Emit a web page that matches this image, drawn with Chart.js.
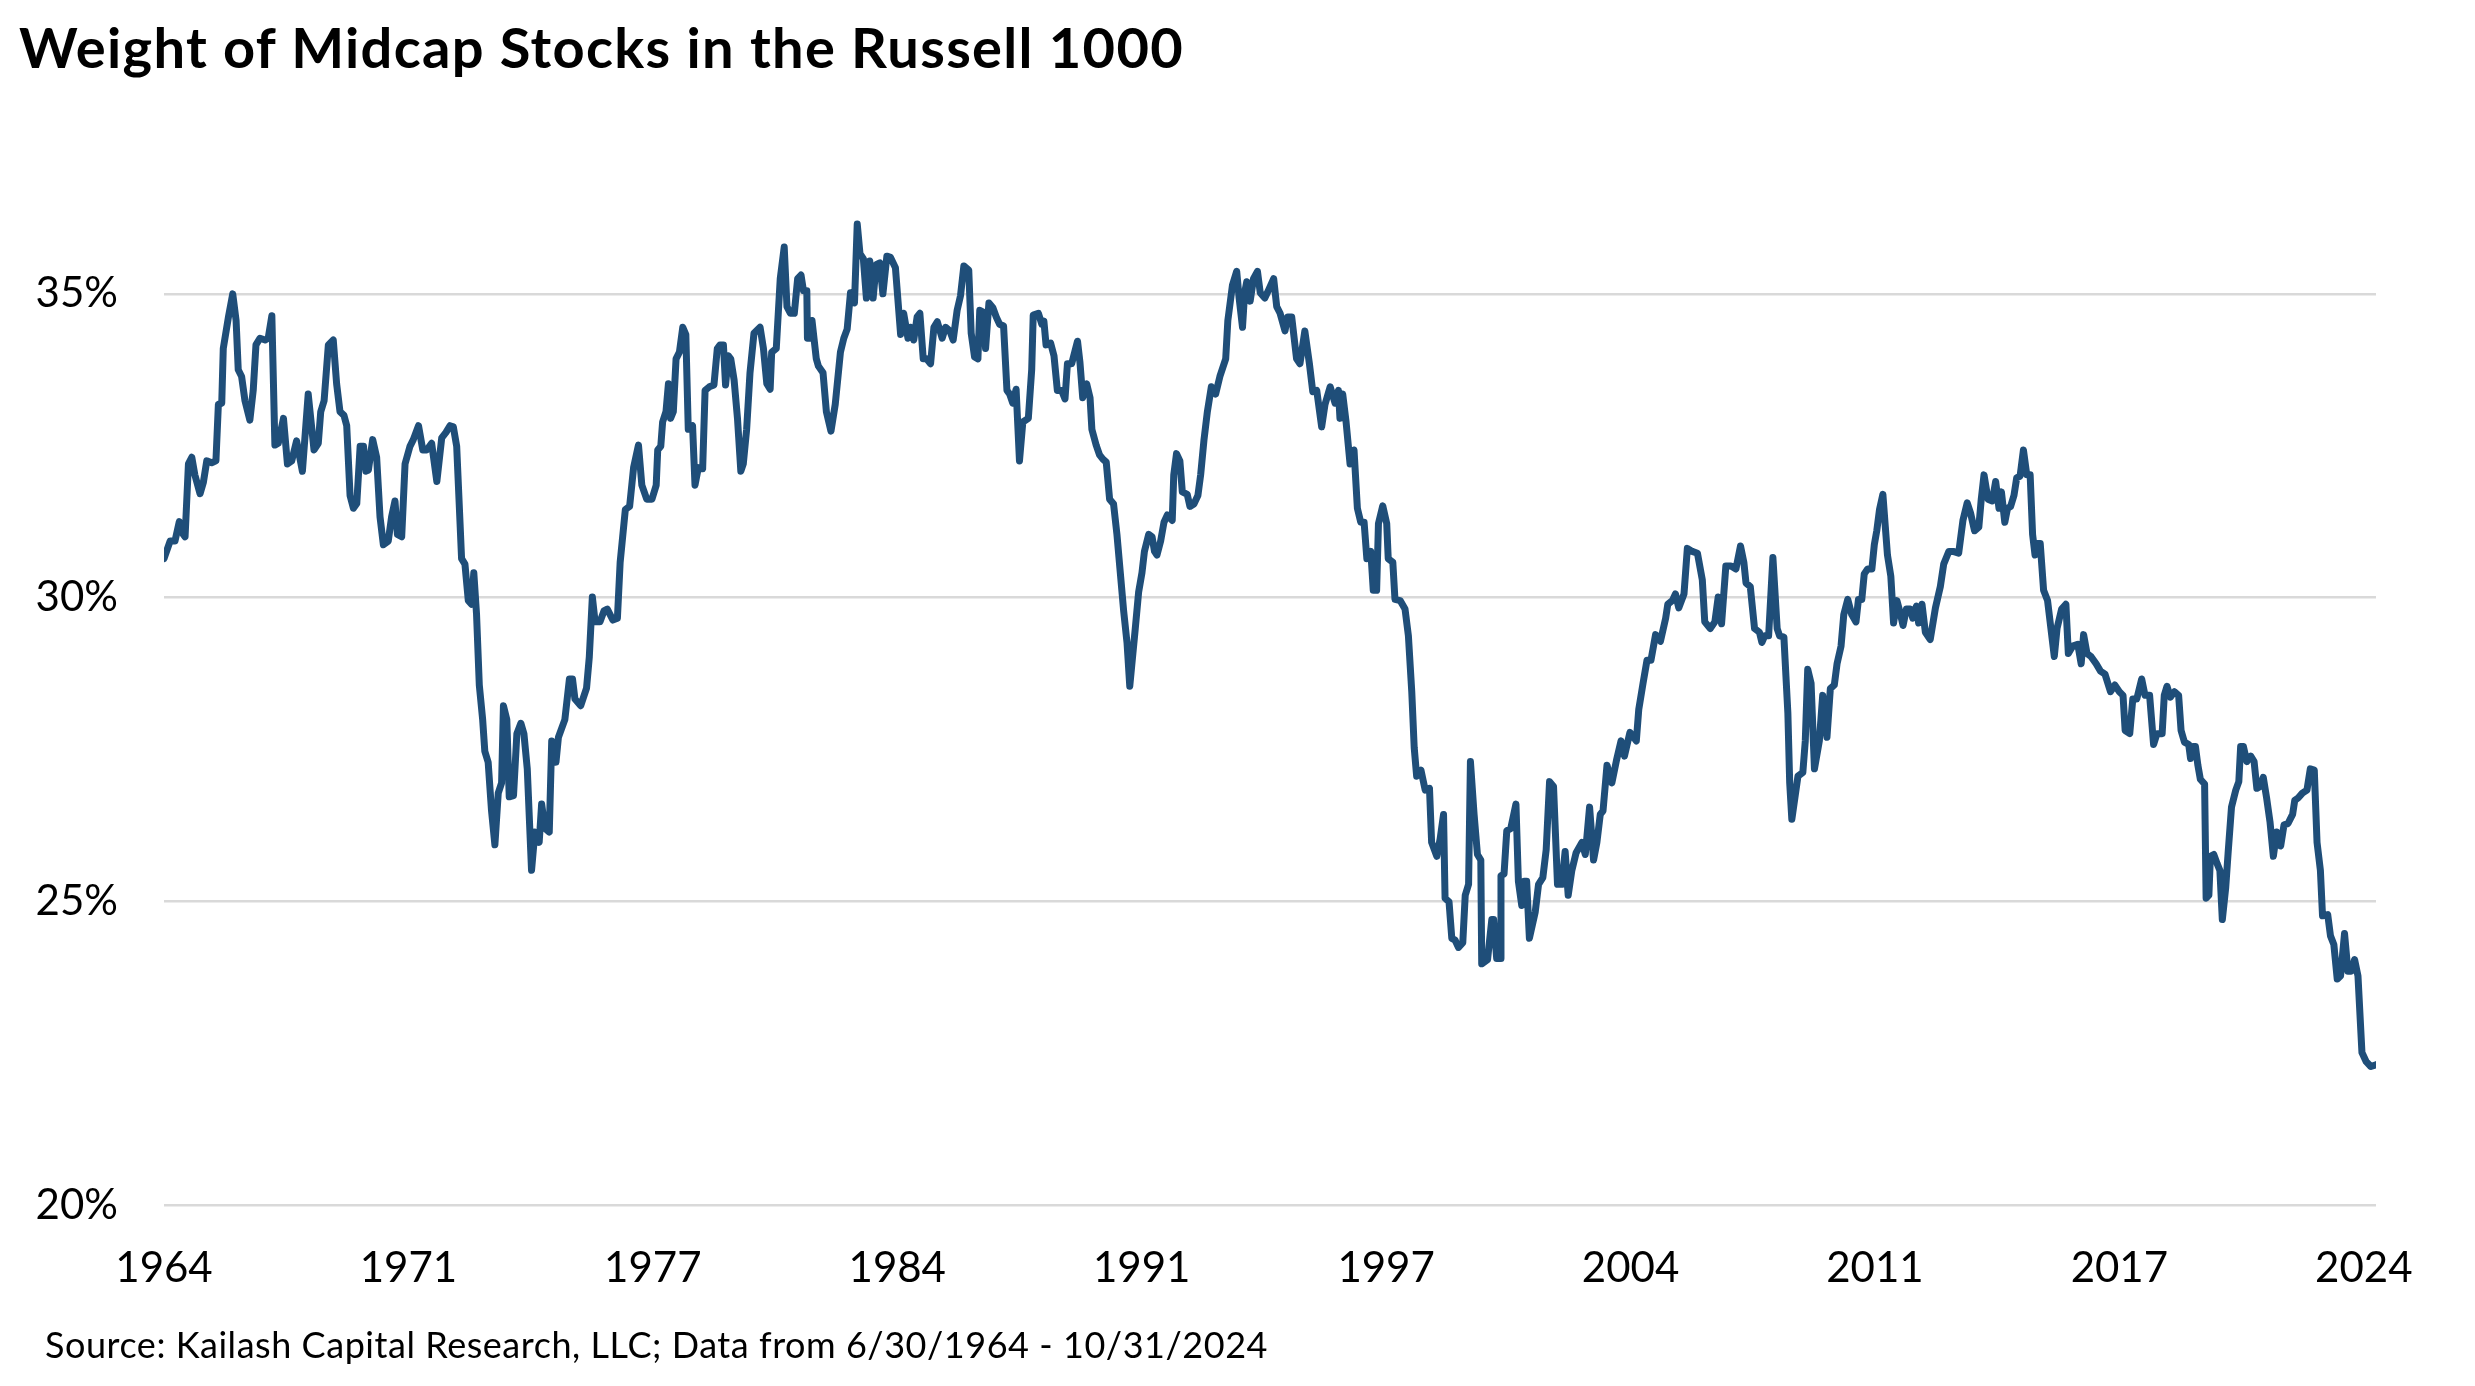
<!DOCTYPE html>
<html>
<head>
<meta charset="utf-8">
<script src="https://cdn.jsdelivr.net/npm/chart.js@4.4.1/dist/chart.umd.min.js"></script>
<style>
  html, body { margin: 0; padding: 0; background: #fff; }
  #wrap { position: relative; width: 2475px; height: 1386px; overflow: hidden; background: #fff; }
  #chart { position: absolute; left: 0; top: 0; }
  #title { position: absolute; left: 19px; top: 13px; font-family: Lato, sans-serif; font-weight: 700;
           font-size: 56px; line-height: 1.2; color: #000; white-space: nowrap; }
  #source { position: absolute; left: 45px; top: 1323px; font-family: Lato, sans-serif; font-weight: 400;
            font-size: 36px; line-height: 1.2; color: #000; white-space: nowrap; }
</style>
</head>
<body>
<div id="wrap">
  <canvas id="chart" width="2475" height="1386"></canvas>
  <div id="title">Weight of Midcap Stocks in the Russell 1000</div>
  <div id="source">Source: Kailash Capital Research, LLC; Data from 6/30/1964 - 10/31/2024</div>
</div>
<script>
// Month index since 6/30/1964 (0 = Jun 1964, 724 = Oct 2024)
const months = [
0,2.0,3.6,5.0,6.3,6.9,8.0,9.1,10.1,11.8,12.9,14.0,15.6,17.0,17.8,18.9,19.4,21.1,22.5,23.6,
24.3,25.4,26.5,28.1,29.2,30.1,31.4,33.1,34.1,35.3,36.3,37.4,39.1,40.4,41.8,43.4,45.3,47.2,49.1,50.5,
51.3,52.4,53.8,55.4,56.5,57.6,58.9,59.8,60.9,62.0,63.1,64.2,65.3,66.1,66.9,68.3,69.6,70.7,71.8,73.4,
74.5,75.6,76.4,77.8,78.9,80.5,81.6,83.3,84.7,86.0,87.6,89.3,90.9,92.3,93.6,94.7,95.8,96.9,97.4,98.5,
99.6,100.7,101.4,102.3,103.2,104.3,105.0,106.1,107.2,108.3,109.4,110.5,111.1,112.2,113.0,114.4,115.5,116.8,117.8,118.9,
120.3,121.4,122.8,123.6,124.7,126.1,126.9,128.3,129.1,131.2,132.7,133.7,134.5,136.4,138.3,139.2,140.2,141.1,142.7,144.0,
145.1,146.9,148.4,149.3,151.0,152.4,153.7,155.3,156.4,158.0,159.7,161.1,161.6,162.6,163.2,164.3,165.1,165.8,166.7,167.6,
168.7,169.8,170.8,171.6,173.0,173.8,174.9,176.3,177.1,178.5,180.0,181.1,182.0,183.1,183.8,184.7,185.5,186.6,187.7,188.8,
189.6,190.7,191.8,193.1,195.1,196.2,197.3,198.4,198.9,200.4,201.7,203.0,203.9,205.0,206.3,207.4,208.5,209.3,210.4,210.6,
211.5,212.1,213.5,214.2,215.7,216.8,218.3,219.7,221.4,222.5,223.6,224.7,226.0,226.9,227.8,228.9,229.9,231.0,232.1,233.1,
234.3,235.3,236.6,237.8,239.4,241.1,242.1,243.5,244.3,245.4,246.5,247.4,248.5,249.6,250.9,252.0,253.1,254.7,255.8,257.2,
258.3,259.6,260.7,261.8,263.4,264.2,265.3,266.4,267.0,268.1,268.9,270.0,271.3,272.4,273.5,274.8,275.9,276.8,277.8,278.9,
280.0,281.1,282.9,284.0,284.5,286.2,287.3,288.0,288.7,290.2,291.3,292.4,293.8,294.9,295.7,297.1,299.0,299.8,300.7,302.0,
303.1,303.7,305.1,306.2,307.3,308.4,309.5,310.8,311.9,313.0,314.1,315.2,316.1,316.8,317.9,319.0,320.1,320.9,322.3,323.4,
324.2,325.0,326.2,327.3,328.4,330.0,330.5,331.4,332.5,333.3,334.9,335.8,337.1,338.4,339.3,340.4,341.5,342.8,344.2,345.6,
347.5,348.2,349.7,351.1,351.9,353.0,353.7,354.4,355.5,356.6,357.9,358.8,360.3,361.7,363.2,364.2,365.3,366.9,367.8,369.1,
370.7,371.8,373.4,374.9,376.0,377.3,378.9,380.0,381.7,383.3,384.4,384.9,385.8,386.9,388.2,389.5,390.6,391.7,392.8,393.7,
395.0,395.8,396.9,397.5,398.9,400.2,400.7,402.2,402.9,404.6,406.2,407.3,408.4,409.2,410.0,411.4,412.8,414.2,414.9,416.6,
417.7,418.8,419.3,420.6,421.5,422.6,423.7,425.1,425.9,427.0,427.6,428.8,429.9,431.0,431.3,433.2,434.6,435.2,436.2,437.3,
437.6,438.6,439.5,440.8,442.5,443.3,444.4,445.2,446.0,446.9,448.8,449.9,451.3,452.4,453.5,454.8,456.1,457.5,458.6,459.6,
460.8,462.2,464.1,465.2,466.6,467.9,469.0,470.1,471.0,472.3,473.9,475.4,476.9,478.0,479.8,481.9,482.7,484.1,485.4,486.7,
488.2,489.8,491.5,492.2,493.7,494.7,495.8,497.5,498.6,500.2,501.9,503.5,504.3,506.1,507.6,508.7,509.8,511.2,512.9,514.5,
516.0,517.1,517.8,519.2,520.6,522.2,523.0,523.9,525.2,526.6,528.0,528.8,530.2,531.5,532.1,532.8,534.8,536.4,537.2,538.0,
539.1,540.2,541.8,542.9,544.3,545.4,546.7,547.6,548.9,549.8,551.1,552.4,553.8,554.6,555.7,556.5,557.6,559.0,559.8,560.6,
561.5,562.6,563.4,564.1,565.2,566.1,567.2,568.3,569.2,570.3,571.6,572.4,573.6,574.3,575.4,576.5,578.1,579.8,581.4,582.5,
584.2,585.6,587.4,588.8,590.2,591.3,592.6,594.0,594.8,595.7,597.0,598.4,599.5,600.6,601.4,602.5,603.4,604.4,605.5,606.4,
607.5,608.6,609.7,610.8,611.6,612.4,613.2,614.1,615.2,616.5,617.6,618.7,619.6,621.1,622.5,623.3,624.7,626.4,627.5,628.3,
629.4,630.7,632.4,633.8,635.3,637.1,638.5,640.0,641.2,641.9,643.4,644.4,645.7,647.3,648.4,649.9,651.2,652.3,654.0,654.7,
655.6,656.7,658.0,659.4,660.2,661.3,662.7,663.3,664.1,664.9,665.7,666.5,667.9,668.4,669.3,669.8,670.9,672.0,672.9,673.7,
674.8,675.6,676.7,678.1,679.1,679.7,680.6,681.7,683.0,684.1,685.0,686.1,687.1,688.2,689.3,690.4,691.5,692.8,693.9,695.2,
696.7,697.4,698.5,699.9,701.4,702.5,703.8,704.7,705.8,706.5,708.2,709.1,710.2,711.3,712.4,713.7,714.8,715.9,717.0,718.1,
719.4,720.8,722.3,724.0
];
// Weight of midcap stocks, percent
const weights = [
30.64,30.93,30.93,31.25,31.04,31.0,32.2,32.31,32.02,31.71,31.9,32.25,32.22,32.25,33.18,33.2,34.1,34.62,35.0,34.56,
33.75,33.64,33.24,32.92,33.41,34.16,34.27,34.24,34.27,34.64,32.51,32.54,32.95,32.2,32.25,32.58,32.08,33.35,32.43,32.54,
33.06,33.24,34.16,34.24,33.52,33.06,33.0,32.83,31.68,31.47,31.55,32.49,32.49,32.08,32.1,32.6,32.31,31.33,30.87,30.93,
31.33,31.59,31.04,31.0,32.2,32.49,32.6,32.83,32.43,32.43,32.54,31.91,32.63,32.72,32.83,32.81,32.49,31.22,30.64,30.55,
29.95,29.89,30.41,29.72,28.56,27.99,27.47,27.29,26.49,25.93,26.78,26.95,28.22,27.99,26.72,26.74,27.76,27.93,27.76,27.18,
25.51,26.14,25.97,26.6,26.2,26.14,27.64,27.29,27.7,27.99,28.66,28.66,28.33,28.22,28.51,29.02,30.01,29.6,29.6,29.78,
29.81,29.63,29.66,30.58,31.45,31.5,32.14,32.51,31.85,31.62,31.62,31.85,32.43,32.49,32.89,33.06,33.52,32.95,33.06,33.93,
34.04,34.45,34.33,32.77,32.83,31.85,32.14,32.12,33.41,33.47,33.5,34.1,34.16,34.16,33.5,33.98,33.93,33.58,32.95,32.08,
32.2,32.77,33.7,34.35,34.45,34.1,33.52,33.43,34.04,34.1,35.25,35.77,34.79,34.68,34.68,35.25,35.31,35.05,35.05,34.27,
34.27,34.56,33.93,33.81,33.7,33.06,32.74,33.18,34.04,34.27,34.42,35.02,34.85,36.15,35.66,35.58,34.93,35.54,34.93,35.48,
35.51,35.0,35.62,35.6,35.43,34.33,34.68,34.27,34.45,34.24,34.62,34.68,33.93,33.93,33.85,34.45,34.54,34.27,34.45,34.39,
34.24,34.73,34.97,35.46,35.39,34.35,33.96,33.93,34.73,34.7,34.1,34.85,34.77,34.62,34.5,34.47,33.41,33.35,33.2,33.43,
32.25,32.89,32.95,33.75,34.65,34.68,34.5,34.55,34.16,34.19,33.98,33.41,33.41,33.27,33.85,33.85,34.22,33.87,33.29,33.52,
33.29,32.77,32.51,32.35,32.28,32.23,31.62,31.54,31.04,30.41,29.78,29.26,28.54,28.91,29.49,30.09,30.41,30.76,31.04,31.0,
30.76,30.7,30.93,31.24,31.36,31.27,32.02,32.37,32.25,31.74,31.7,31.5,31.54,31.68,32.02,32.6,33.06,33.47,33.35,33.64,
33.93,34.56,35.14,35.37,34.93,34.45,35.02,35.2,34.88,35.25,35.37,35.02,34.93,35.08,35.25,34.79,34.68,34.39,34.62,34.62,
33.93,33.85,34.39,33.85,33.39,33.41,32.81,33.18,33.47,33.2,33.41,32.95,33.35,32.89,32.2,32.43,31.47,31.24,31.24,30.64,
30.76,30.12,30.12,31.22,31.51,31.22,30.64,30.58,29.97,29.95,29.81,29.37,28.45,27.53,27.06,27.16,26.83,26.86,25.97,25.74,
26.03,26.43,25.05,24.99,24.39,24.36,24.24,24.32,25.1,25.28,27.3,26.43,25.77,25.68,23.97,24.04,24.7,24.7,24.06,24.06,
25.42,25.45,26.16,26.2,26.6,25.33,24.93,25.33,25.33,24.39,24.82,25.28,25.39,25.85,26.97,26.89,25.28,25.28,25.82,25.1,
25.51,25.8,25.97,25.77,26.55,25.68,25.97,26.43,26.49,27.24,26.95,27.32,27.64,27.39,27.78,27.64,28.16,28.59,28.97,28.97,
29.39,29.28,29.66,29.89,29.95,30.06,29.83,30.06,30.81,30.76,30.73,30.29,29.6,29.49,29.6,30.01,29.57,30.52,30.52,30.47,
30.85,30.58,30.24,30.18,29.49,29.43,29.26,29.37,29.37,30.66,29.49,29.37,29.35,28.1,26.95,26.35,27.06,27.12,27.64,28.82,
28.59,27.18,27.64,28.39,27.7,28.5,28.56,28.91,29.2,29.72,29.97,29.72,29.6,29.97,29.97,30.39,30.47,30.47,30.87,31.1,
31.45,31.7,31.16,30.7,30.35,29.58,29.95,29.74,29.54,29.81,29.81,29.66,29.86,29.58,29.89,29.43,29.31,29.83,30.18,30.55,
30.76,30.76,30.73,31.27,31.56,31.39,31.1,31.16,31.62,32.02,31.62,31.59,31.91,31.47,31.74,31.24,31.47,31.5,31.68,31.97,
32.0,32.43,32.02,32.02,31.04,30.7,30.89,30.89,30.12,29.95,29.49,29.03,29.49,29.81,29.89,29.08,29.2,29.23,28.91,29.39,
29.08,29.03,28.91,28.79,28.74,28.45,28.56,28.45,28.39,27.81,27.76,28.33,28.33,28.66,28.39,28.39,27.58,27.76,27.76,28.39,
28.54,28.36,28.45,28.39,27.81,27.62,27.58,27.35,27.55,27.55,27.24,27.01,26.93,25.05,25.1,25.74,25.77,25.62,25.51,24.7,
25.22,25.8,26.55,26.83,26.97,27.55,27.55,27.3,27.39,27.3,26.86,26.89,27.04,26.7,26.31,25.74,26.14,25.91,26.26,26.28,
26.43,26.66,26.7,26.78,26.83,27.18,27.16,25.97,25.51,24.76,24.78,24.43,24.29,23.72,23.77,24.47,23.85,23.85,24.04,23.77,
22.51,22.36,22.28,22.31
];
// Axis ticks
const xTickIndex = [0, 80, 160, 240, 320, 400, 480, 560, 640, 720];
const xTickLabels = ['1964', '1971', '1977', '1984', '1991', '1997', '2004', '2011', '2017', '2024'];
const yTickValues = [20, 25, 30, 35];

// Stretch text so its visible width matches the reference
function fitWidth(id, target) {
  const el = document.getElementById(id);
  el.style.letterSpacing = '0px';
  const w = el.getBoundingClientRect().width;
  const n = el.textContent.length;
  if (n > 1) el.style.letterSpacing = ((target - w) / n) + 'px';
}

function build() {
  fitWidth('title', 1165);
  fitWidth('source', 1223);
  const points = months.map((m, i) => ({ x: m, y: weights[i] }));
  new Chart(document.getElementById('chart'), {
    type: 'line',
    data: {
      datasets: [{
        data: points,
        borderColor: '#1F4E79',
        borderWidth: 7,
        pointRadius: 0,
        tension: 0,
        borderJoinStyle: 'round',
        borderCapStyle: 'round',
        fill: false
      }]
    },
    options: {
      responsive: false,
      animation: false,
      devicePixelRatio: 1,
      layout: { padding: { left: 0, right: 99, top: 142, bottom: 0 } },
      plugins: { legend: { display: false }, tooltip: { enabled: false }, title: { display: false } },
      scales: {
        x: {
          type: 'linear',
          min: 0,
          max: 724,
          grid: { display: false, drawTicks: false },
          border: { display: false },
          afterFit: (s) => { s.height = 181; },
          afterBuildTicks: (s) => { s.ticks = xTickIndex.map(v => ({ value: v })); },
          ticks: {
            autoSkip: false,
            maxRotation: 0,
            padding: 38,
            color: '#000',
            font: { family: 'Lato', size: 42 },
            callback: (v) => xTickLabels[xTickIndex.indexOf(v)]
          }
        },
        y: {
          min: 20,
          max: 37.5,
          grid: { color: '#D9D9D9', lineWidth: 2.5, drawTicks: false },
          border: { display: false },
          afterFit: (s) => { s.width = 164; },
          afterBuildTicks: (s) => { s.ticks = yTickValues.map(v => ({ value: v })); },
          ticks: {
            padding: 46,
            color: '#000',
            font: { family: 'Lato', size: 42 },
            callback: (v) => v + '%'
          }
        }
      }
    }
  });
}

Promise.all([
  document.fonts.load('42px Lato'),
  document.fonts.load('36px Lato'),
  document.fonts.load('700 56px Lato')
]).then(build, build);
</script>
</body>
</html>
